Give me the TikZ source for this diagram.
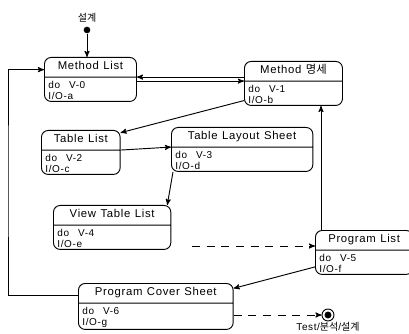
\documentclass[tikz,border=0pt]{standalone}
\usepackage{fontspec}
\setmainfont{Liberation Sans}
\newfontfamily\boxfont[LetterSpace=6]{Liberation Sans}
\newfontfamily\kr{Noto Sans CJK KR}
\usetikzlibrary{arrows,shapes.multipart,positioning}

% title row and "do / I/O" row of a state box
\newcommand{\boxtitle}[1]{\centering\boxfont\fontsize{8.5}{10}\selectfont\rule[-4pt]{0pt}{12pt}#1\par}
\newcommand{\boxbody}[2]{\raggedright\boxfont\fontsize{7.5}{8.5}\selectfont\rule{0pt}{7pt}do~~#1\\I/O-#2\par}

\tikzset{
  statebox/.style={rectangle split, rectangle split parts=2, draw, rounded corners=5pt,
    line width=.7pt, anchor=north west, inner xsep=3pt, inner ysep=1pt, text width=#1},
  flow/.style={->, line width=.7pt},
  dashflow/.style={flow, dash pattern=on 6pt off 5pt},
  initstate/.style={circle, fill, inner sep=0pt, minimum size=5pt},
  endstate/.style={circle, draw, line width=.7pt, minimum size=9pt, inner sep=0pt,
    path picture={\fill (path picture bounding box.center) circle (2.6pt);}}
}

\begin{document}
\begin{tikzpicture}[x=0.75pt,y=-0.75pt,>=stealth',node distance=4pt]
  \useasboundingbox (0,0) rectangle (409,334);

  \node[initstate] (init) at (87,30) {};
  \node (initlbl) [above=3pt of init, inner sep=0pt] {\kr\fontsize{7.5}{8}\selectfont 설계};

  \node[statebox=63pt]  (ml)  at (44,57)  {\boxtitle{Method List}\nodepart{two}\boxbody{V-0}{a}};
  \node[statebox=67.5pt] (mm) at (244,61) {\boxtitle{Method {\kr 명세}}\nodepart{two}\boxbody{V-1}{b}};
  \node[statebox=53pt]  (tl)  at (41,130) {\boxtitle{Table List}\nodepart{two}\boxbody{V-2}{c}};
  \node[statebox=100pt] (tls) at (171,127) {\boxtitle{Table Layout Sheet}\nodepart{two}\boxbody{V-3}{d}};
  \node[statebox=82pt]  (vtl) at (53,205) {\boxtitle{View Table List}\nodepart{two}\boxbody{V-4}{e}};
  \node[statebox=67pt]  (pl)  at (315,230) {\boxtitle{Program List}\nodepart{two}\boxbody{V-5}{f}};
  \node[statebox=110pt] (pcs) at (78,283) {\boxtitle{Program Cover Sheet}\nodepart{two}\boxbody{V-6}{g}};

  \node[endstate] (fin) at (328,315) {};
  \node (finlbl) [below=0.5pt of fin, inner sep=0pt] {\boxfont\fontsize{7.5}{8}\selectfont Test/{\kr 분석}/{\kr 설계}};

  % transitions
  \draw[flow] (init) -- (init |- ml.north);
  \draw[flow] (mm.west |- ml.text split east) -- (ml.text split east);
  \draw[flow] (ml.east |- mm.text split west) -- (mm.text split west);
  \draw[flow] ([yshift=4pt]mm.south west) -- ([yshift=-2pt]tl.north east);
  \draw[flow] (tl.text split east) -- (tls.text split west);
  \draw[flow] ([xshift=1.5pt]tls.south west) -- ([xshift=-3pt]vtl.north east);

  \coordinate (vtlout) at (192,246);
  \draw[dashflow] (vtlout) -- (vtlout -| pl.west);

  \coordinate (plup) at ([xshift=4.5pt]pl.north west);
  \draw[flow] (plup) -- (plup |- mm.south);
  \draw[flow] ([yshift=6pt]pl.south west) -- ([yshift=-4pt]pcs.north east);
  \draw[dashflow] (pcs.east |- fin) -- (fin);

  \coordinate (loopx) at (8,180);
  \draw[flow] ([yshift=-9pt]pcs.north west) -| (loopx) |- ([yshift=-9.5pt]ml.north west);
\end{tikzpicture}
\end{document}
